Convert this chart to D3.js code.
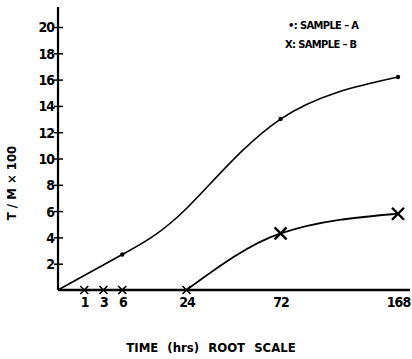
<!DOCTYPE html>
<html><head><meta charset="utf-8">
<script src="https://cdn.jsdelivr.net/npm/d3@7"></script>
<style>
body{margin:0;background:#fff;}
text{font-family:"DejaVu Sans Condensed","Liberation Sans Narrow","Liberation Sans",sans-serif;font-weight:bold;fill:#000;}
</style></head>
<body><svg id="c" width="412" height="359"></svg>
<script>
const xTicks = [1, 3, 6, 24, 72, 168];
const yTicks = [2, 4, 6, 8, 10, 12, 14, 16, 18, 20];
const timesA = [0, 6, 24, 72, 168];
const valuesA = [0, 2.7, 6.2, 13.0, 16.2];
const markedA = [false, true, false, true, true];
const timesB = [0, 1, 3, 6, 24, 72, 168];
const valuesB = [0, 0, 0, 0, 0, 4.3, 5.8];
const markedB = [false, true, true, true, true, true, true];

const svg = d3.select("#c");
const x = d3.scaleSqrt().domain([0, 168]).range([58, 398]);
const y = d3.scaleLinear().domain([0, 20]).range([290, 27]);

// axes
svg.append("line").attr("x1", x(0)).attr("x2", x(0)).attr("y1", 7).attr("y2", y(0))
  .attr("stroke", "#000").attr("stroke-width", 2.2);
svg.append("line").attr("x1", x(0)).attr("x2", 410).attr("y1", y(0)).attr("y2", y(0))
  .attr("stroke", "#000").attr("stroke-width", 2.5);

const yAxis = d3.axisLeft(y).tickValues(yTicks).tickSize(0).tickPadding(0).tickFormat(d3.format("d"));
const yg = svg.append("g").attr("transform", `translate(${x(0)},0)`).call(yAxis);
yg.select(".domain").remove();
yg.selectAll(".tick line").remove();
yg.selectAll(".tick").append("line").attr("x1", -4).attr("x2", 5).attr("stroke", "#000").attr("stroke-width", 1.5);
yg.selectAll(".tick text").attr("x", -4).attr("dy", "0.35em").style("font-size", "14px").style("letter-spacing", "-1px");

const xAxis = d3.axisBottom(x).tickValues(xTicks).tickSize(0).tickPadding(7).tickFormat(d3.format("d"));
const xg = svg.append("g").attr("transform", `translate(0,${y(0)})`).call(xAxis);
xg.select(".domain").remove();
xg.selectAll(".tick text").style("font-size", "14px").style("letter-spacing", "-1px");

// lines
const smoothGen = d3.line().x(d => x(d[0])).y(d => y(d[1])).curve(d3.curveNatural);
const lineGen = d3.line().x(d => x(d[0])).y(d => y(d[1])).curve(d3.curveMonotoneX);
const flatGen = d3.line().x(d => x(d[0])).y(d => y(d[1]));
const dataA = timesA.map((t, i) => [t, valuesA[i]]);
const dataB = timesB.map((t, i) => [t, valuesB[i]]);
const riseStart = dataB.findIndex((d, i) => i + 1 < dataB.length && dataB[i + 1][1] > 0);
svg.append("path").attr("d", smoothGen(dataA)).attr("fill", "none").attr("stroke", "#000").attr("stroke-width", 1.6);
svg.append("path").attr("d", flatGen(dataB.slice(0, riseStart + 1))).attr("fill", "none").attr("stroke", "#000").attr("stroke-width", 1.8);
svg.append("path").attr("d", lineGen(dataB.slice(riseStart))).attr("fill", "none").attr("stroke", "#000").attr("stroke-width", 1.8);

svg.selectAll(".ma").data(dataA.filter((d, i) => markedA[i])).enter().append("circle")
  .attr("cx", d => x(d[0])).attr("cy", d => y(d[1])).attr("r", 2.2).attr("fill", "#000");

const cross = svg.selectAll(".mb").data(dataB.filter((d, i) => markedB[i])).enter().append("g")
  .attr("transform", d => `translate(${x(d[0])},${y(d[1])})`);
cross.each(function(d) {
  const s = d[1] > 0 ? 6 : 4;
  const g = d3.select(this);
  g.append("line").attr("x1", -s).attr("y1", -s).attr("x2", s).attr("y2", s).attr("stroke", "#000").attr("stroke-width", d[1] > 0 ? 2.4 : 1.6);
  g.append("line").attr("x1", -s).attr("y1", s).attr("x2", s).attr("y2", -s).attr("stroke", "#000").attr("stroke-width", d[1] > 0 ? 2.4 : 1.6);
});

// legend
svg.append("text").attr("x", 288).attr("y", 29).style("font-size", "11px").style("letter-spacing", "-0.6px").text("•: SAMPLE – A");
svg.append("text").attr("x", 285).attr("y", 48).style("font-size", "11px").style("letter-spacing", "-0.6px").text("X: SAMPLE – B");

// axis titles
svg.append("text").attr("x", 211).attr("y", 352).attr("text-anchor", "middle")
  .style("font-size", "13px").style("letter-spacing", "0px").style("word-spacing", "5px").text("TIME (hrs) ROOT  SCALE");
svg.append("text").attr("transform", "translate(16,183) rotate(-90)").attr("text-anchor", "middle")
  .style("font-size", "13px").text("T / M × 100");
</script></body></html>
